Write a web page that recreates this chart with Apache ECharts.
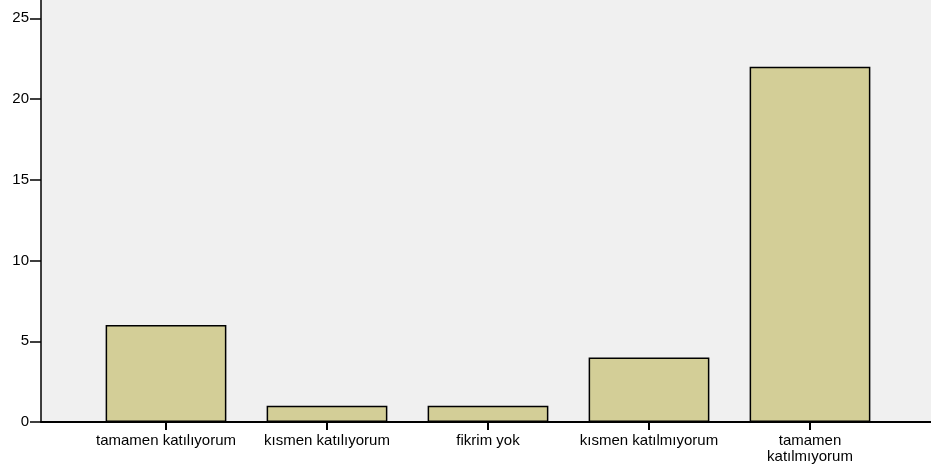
<!DOCTYPE html>
<html>
<head>
<meta charset="utf-8">
<script src="https://cdn.jsdelivr.net/npm/echarts@6/dist/echarts.min.js"></script>
<style>
  html, body { margin: 0; padding: 0; background: #fff; }
  #chart { width: 931px; height: 470px; }
</style>
</head>
<body>
<div id="chart"></div>
<script>
// categories and counts
const categories = [
  "tamamen katılıyorum",
  "kısmen katılıyorum",
  "fikrim yok",
  "kısmen katılmıyorum",
  "tamamen\nkatılmıyorum"
];
const counts = [6, 1, 1, 4, 22];
const yMax = 30;
const yStep = 5;

const chart = echarts.init(document.getElementById("chart"));
const font = "'Liberation Sans', Arial, sans-serif";

const option = {
  animation: false,
  backgroundColor: "#ffffff",
  grid: [
    // frame: grey plot area with both axes lines (top runs off the canvas)
    { left: 41, right: 0, top: -62.5, bottom: 48, show: true, backgroundColor: "#f0f0f0", borderWidth: 0,
      containLabel: false, outerBoundsMode: "none" },
    // bars sit in a narrower band, like the original
    { left: 85.5, right: 40.5, top: -62.5, bottom: 48, containLabel: false, outerBoundsMode: "none" }
  ],
  xAxis: [
    {
      gridIndex: 0, type: "value", min: 0, max: 1,
      axisLine: { show: true, lineStyle: { color: "#000", width: 2 } },
      axisTick: { show: false }, axisLabel: { show: false }, splitLine: { show: false }
    },
    {
      gridIndex: 1, type: "category", data: categories,
      axisLine: { show: false },
      axisTick: { show: true, alignWithLabel: true, length: 8, lineStyle: { color: "#000", width: 2 } },
      axisLabel: { color: "#000", fontFamily: font, fontSize: 15, margin: 11, lineHeight: 16, interval: 0 },
      splitLine: { show: false }
    }
  ],
  yAxis: [
    {
      gridIndex: 0, type: "value", min: 0, max: yMax, interval: yStep,
      axisLine: { show: true, lineStyle: { color: "#000", width: 1.5 } },
      axisTick: { show: true, length: 11, lineStyle: { color: "#000", width: 1.5 } },
      axisLabel: { color: "#000", fontFamily: font, fontSize: 15, margin: 12, showMaxLabel: false },
      splitLine: { show: false }
    },
    {
      gridIndex: 1, type: "value", min: 0, max: yMax, show: false, splitLine: { show: false }
    }
  ],
  series: [
    {
      type: "bar",
      xAxisIndex: 1,
      yAxisIndex: 1,
      data: counts,
      barWidth: "75%",
      itemStyle: { color: "#d3ce97", borderColor: "#000", borderWidth: 1.5 }
    }
  ]
};

chart.setOption(option);
</script>
</body>
</html>
